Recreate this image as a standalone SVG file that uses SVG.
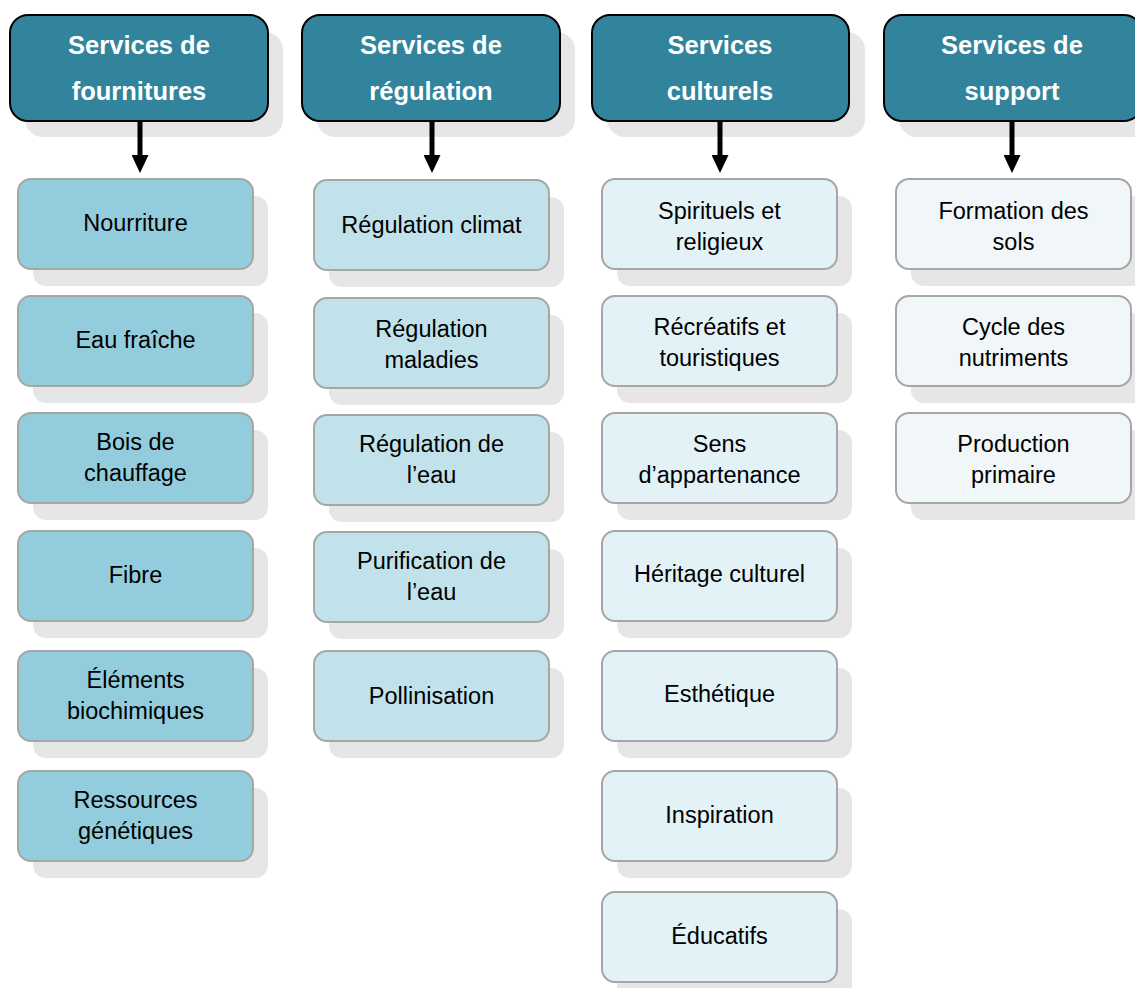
<svg xmlns="http://www.w3.org/2000/svg" width="1135" height="988" viewBox="0 0 1135 988">
<style>
.sh{fill:#e6e6e6}
.hd{fill:#31849b;stroke:#000;stroke-width:2}
.c1{fill:#93cddd;stroke:#a6a6a6;stroke-width:2}
.c2{fill:#c1e2eb;stroke:#a6a6a6;stroke-width:2}
.c3{fill:#e3f2f6;stroke:#a6a6a6;stroke-width:2}
.c4{fill:#f1f7f9;stroke:#a6a6a6;stroke-width:2}
.ht{font-family:"Liberation Sans",Arial,sans-serif;font-weight:bold;font-size:25.5px;fill:#fff;text-anchor:middle}
.t{font-family:"Liberation Sans",Arial,sans-serif;font-size:23.5px;fill:#000;text-anchor:middle}
.ar{stroke:#000;stroke-width:5;fill:none}
</style>
<defs>
<marker id="ah" markerWidth="18" markerHeight="17" refX="0" refY="8.5" orient="auto" markerUnits="userSpaceOnUse" viewBox="0 0 18 17">
<path d="M0,0 L18,8.5 L0,17 z" fill="#000"/>
</marker>
</defs>
<rect width="1135" height="988" fill="#fff"/>

<!-- Headers -->
<g id="h1"><rect class="sh" x="25" y="32" width="258" height="105" rx="18"/><rect class="hd" x="10" y="15" width="258" height="106" rx="18"/><text class="ht" x="139" y="54">Services de</text><text class="ht" x="139" y="100">fournitures</text></g>
<g id="h2"><rect class="sh" x="317" y="32" width="258" height="105" rx="18"/><rect class="hd" x="302" y="15" width="258" height="106" rx="18"/><text class="ht" x="431" y="54">Services de</text><text class="ht" x="431" y="100">régulation</text></g>
<g id="h3"><rect class="sh" x="607" y="32" width="258" height="105" rx="18"/><rect class="hd" x="592" y="15" width="257" height="106" rx="18"/><text class="ht" x="720" y="54">Services</text><text class="ht" x="720" y="100">culturels</text></g>
<g id="h4"><rect class="sh" x="899" y="32" width="258" height="105" rx="18"/><rect class="hd" x="884" y="15" width="258" height="106" rx="18"/><text class="ht" x="1012" y="54">Services de</text><text class="ht" x="1012" y="100">support</text></g>

<g id="connectors">
<line class="ar" x1="140" y1="121" x2="140" y2="155" marker-end="url(#ah)"/>
<line class="ar" x1="432" y1="121" x2="432" y2="155" marker-end="url(#ah)"/>
<line class="ar" x1="720" y1="121" x2="720" y2="155" marker-end="url(#ah)"/>
<line class="ar" x1="1012" y1="121" x2="1012" y2="155" marker-end="url(#ah)"/>
</g>

<!-- Column 1 -->
<g id="n1a"><rect class="sh" x="33" y="196" width="235" height="90" rx="13"/><rect class="c1" x="18" y="179" width="235" height="90" rx="13"/><text class="t" x="135.5" y="231">Nourriture</text></g>
<g id="n1b"><rect class="sh" x="33" y="313" width="235" height="90" rx="13"/><rect class="c1" x="18" y="296" width="235" height="90" rx="13"/><text class="t" x="135.5" y="348">Eau fraîche</text></g>
<g id="n1c"><rect class="sh" x="33" y="430" width="235" height="90" rx="13"/><rect class="c1" x="18" y="413" width="235" height="90" rx="13"/><text class="t" x="135.5" y="450">Bois de</text><text class="t" x="135.5" y="481">chauffage</text></g>
<g id="n1d"><rect class="sh" x="33" y="548" width="235" height="90" rx="13"/><rect class="c1" x="18" y="531" width="235" height="90" rx="13"/><text class="t" x="135.5" y="583">Fibre</text></g>
<g id="n1e"><rect class="sh" x="33" y="668" width="235" height="90" rx="13"/><rect class="c1" x="18" y="651" width="235" height="90" rx="13"/><text class="t" x="135.5" y="688">Éléments</text><text class="t" x="135.5" y="719">biochimiques</text></g>
<g id="n1f"><rect class="sh" x="33" y="788" width="235" height="90" rx="13"/><rect class="c1" x="18" y="771" width="235" height="90" rx="13"/><text class="t" x="135.5" y="808">Ressources</text><text class="t" x="135.5" y="839">génétiques</text></g>

<!-- Column 2 -->
<g id="n2a"><rect class="sh" x="329" y="197" width="235" height="90" rx="13"/><rect class="c2" x="314" y="180" width="235" height="90" rx="13"/><text class="t" x="431.5" y="233">Régulation climat</text></g>
<g id="n2b"><rect class="sh" x="329" y="315" width="235" height="90" rx="13"/><rect class="c2" x="314" y="298" width="235" height="90" rx="13"/><text class="t" x="431.5" y="337">Régulation</text><text class="t" x="431.5" y="368">maladies</text></g>
<g id="n2c"><rect class="sh" x="329" y="432" width="235" height="90" rx="13"/><rect class="c2" x="314" y="415" width="235" height="90" rx="13"/><text class="t" x="431.5" y="452">Régulation de</text><text class="t" x="431.5" y="483">l’eau</text></g>
<g id="n2d"><rect class="sh" x="329" y="549" width="235" height="90" rx="13"/><rect class="c2" x="314" y="532" width="235" height="90" rx="13"/><text class="t" x="431.5" y="569">Purification de</text><text class="t" x="431.5" y="600">l’eau</text></g>
<g id="n2e"><rect class="sh" x="329" y="668" width="235" height="90" rx="13"/><rect class="c2" x="314" y="651" width="235" height="90" rx="13"/><text class="t" x="431.5" y="704">Pollinisation</text></g>

<!-- Column 3 -->
<g id="n3a"><rect class="sh" x="617" y="196" width="235" height="90" rx="13"/><rect class="c3" x="602" y="179" width="235" height="90" rx="13"/><text class="t" x="719.5" y="219">Spirituels et</text><text class="t" x="719.5" y="250">religieux</text></g>
<g id="n3b"><rect class="sh" x="617" y="313" width="235" height="90" rx="13"/><rect class="c3" x="602" y="296" width="235" height="90" rx="13"/><text class="t" x="719.5" y="335">Récréatifs et</text><text class="t" x="719.5" y="366">touristiques</text></g>
<g id="n3c"><rect class="sh" x="617" y="430" width="235" height="90" rx="13"/><rect class="c3" x="602" y="413" width="235" height="90" rx="13"/><text class="t" x="719.5" y="452">Sens</text><text class="t" x="719.5" y="483">d’appartenance</text></g>
<g id="n3d"><rect class="sh" x="617" y="548" width="235" height="90" rx="13"/><rect class="c3" x="602" y="531" width="235" height="90" rx="13"/><text class="t" x="719.5" y="582">Héritage culturel</text></g>
<g id="n3e"><rect class="sh" x="617" y="668" width="235" height="90" rx="13"/><rect class="c3" x="602" y="651" width="235" height="90" rx="13"/><text class="t" x="719.5" y="702">Esthétique</text></g>
<g id="n3f"><rect class="sh" x="617" y="788" width="235" height="90" rx="13"/><rect class="c3" x="602" y="771" width="235" height="90" rx="13"/><text class="t" x="719.5" y="823">Inspiration</text></g>
<g id="n3g"><rect class="sh" x="617" y="909" width="235" height="90" rx="13"/><rect class="c3" x="602" y="892" width="235" height="90" rx="13"/><text class="t" x="719.5" y="944">Éducatifs</text></g>

<!-- Column 4 -->
<g id="n4a"><rect class="sh" x="911" y="196" width="235" height="90" rx="13"/><rect class="c4" x="896" y="179" width="235" height="90" rx="13"/><text class="t" x="1013.5" y="219">Formation des</text><text class="t" x="1013.5" y="250">sols</text></g>
<g id="n4b"><rect class="sh" x="911" y="313" width="235" height="90" rx="13"/><rect class="c4" x="896" y="296" width="235" height="90" rx="13"/><text class="t" x="1013.5" y="335">Cycle des</text><text class="t" x="1013.5" y="366">nutriments</text></g>
<g id="n4c"><rect class="sh" x="911" y="430" width="235" height="90" rx="13"/><rect class="c4" x="896" y="413" width="235" height="90" rx="13"/><text class="t" x="1013.5" y="452">Production</text><text class="t" x="1013.5" y="483">primaire</text></g>
</svg>
